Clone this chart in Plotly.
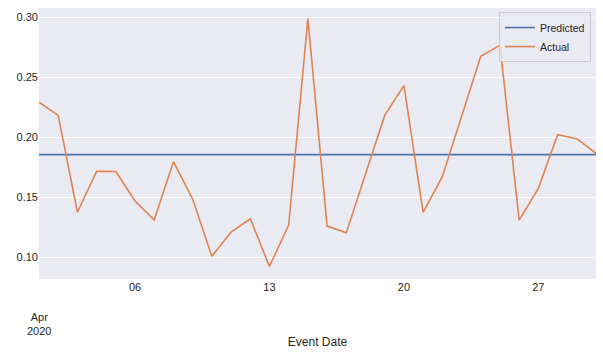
import pandas as pd
import plotly.graph_objects as go

dates = pd.date_range("2020-04-01", "2020-04-30", freq="D")
actual = [0.229, 0.218, 0.1373, 0.1714, 0.1713, 0.1467, 0.1308, 0.1794, 0.1483, 0.1006,
          0.1208, 0.1319, 0.0922, 0.1267, 0.2986, 0.1258, 0.1203, 0.170, 0.218, 0.2428,
          0.1373, 0.1669, 0.217, 0.2672, 0.2764, 0.1308, 0.1572, 0.2019, 0.1986, 0.1864]
predicted_value = 0.1853
predicted = [predicted_value] * len(dates)

tick_dates = ["2020-04-06", "2020-04-13", "2020-04-20", "2020-04-27"]
tick_text = ["06", "13", "20", "27"]
y_ticks = [0.10, 0.15, 0.20, 0.25, 0.30]

font_family = "Liberation Sans, Arial, sans-serif"
text_color = "#262626"

fig = go.Figure()
fig.add_trace(go.Scatter(x=dates, y=predicted, mode="lines", name="Predicted",
                         line=dict(color="#4C72B0", width=1.6)))
fig.add_trace(go.Scatter(x=dates, y=actual, mode="lines", name="Actual",
                         line=dict(color="#DD8452", width=1.6)))

fig.update_layout(
    width=603, height=354,
    margin=dict(l=39, r=7, t=8, b=75),
    paper_bgcolor="white",
    plot_bgcolor="#EAEAF2",
    font=dict(family=font_family, color=text_color, size=11),
    legend=dict(x=0.991, y=0.985, xanchor="right", yanchor="top",
                bgcolor="rgba(234,234,242,0.8)", bordercolor="#CCCCCC", borderwidth=1,
                font=dict(size=10.5, color=text_color), tracegroupgap=0,
                itemwidth=30),
    showlegend=True,
)
fig.update_xaxes(
    range=[dates[0], dates[-1]],
    tickmode="array", tickvals=tick_dates, ticktext=tick_text,
    showgrid=False, zeroline=False, showline=False, ticks="",
    tickfont=dict(size=11, color=text_color),
    title=dict(text="Event Date", font=dict(size=12, color=text_color), standoff=45),
)
fig.update_yaxes(
    range=[0.0817, 0.3075],
    tickmode="array", tickvals=y_ticks, ticktext=[f"{v:.2f}" for v in y_ticks],
    showgrid=True, gridcolor="white", gridwidth=1, zeroline=False, showline=False, ticks="",
    tickfont=dict(size=11, color=text_color),
)
fig.add_annotation(x=dates[0], y=0, xref="x", yref="paper", yanchor="top",
                   yshift=-30, text="Apr<br>2020", showarrow=False,
                   font=dict(size=11, color=text_color))
fig.write_html("out.html")
